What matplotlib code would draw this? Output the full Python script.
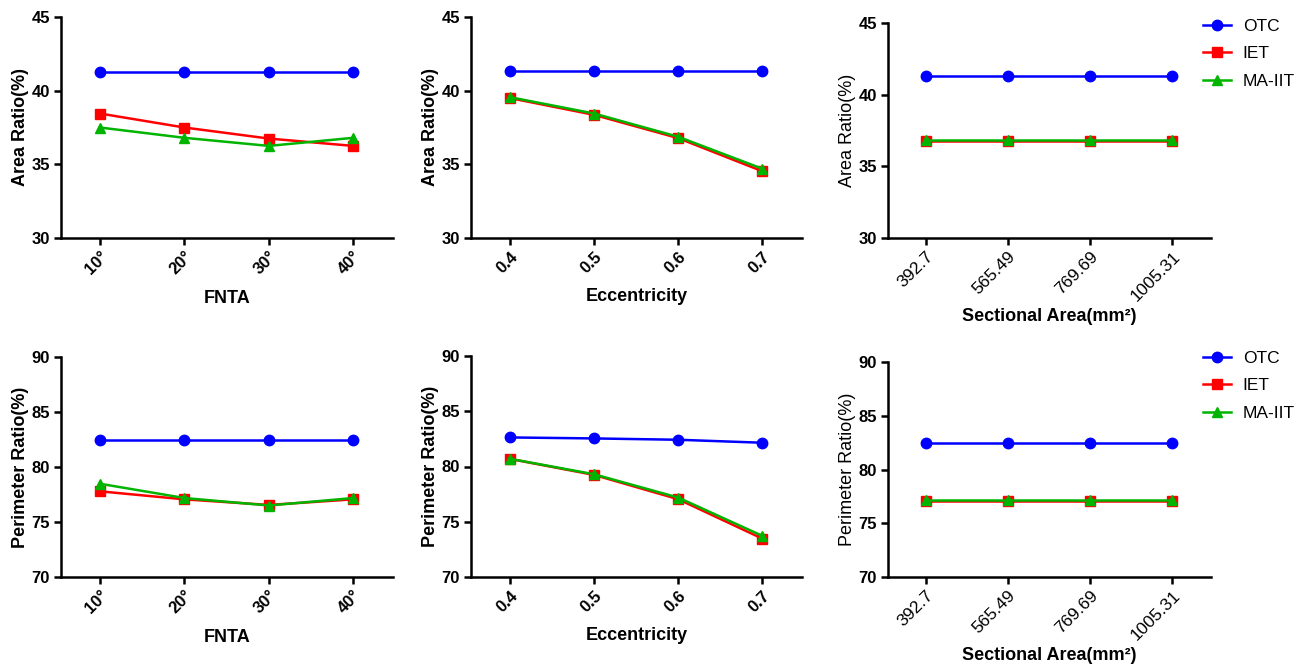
import matplotlib
matplotlib.use("Agg")
import matplotlib.pyplot as plt

plt.rcParams['font.family'] = ['Liberation Sans', 'DejaVu Sans']

# ---- data ----
fnta_labels = ["10°", "20°", "30°", "40°"]
ecc_labels = ["0.4", "0.5", "0.6", "0.7"]
area_labels = ["392.7", "565.49", "769.69", "1005.31"]

series_names = ["OTC", "IET", "MA-IIT"]

# Area ratio (%)
area_fnta_otc = [41.3, 41.3, 41.3, 41.3]
area_fnta_iet = [38.45, 37.5, 36.75, 36.25]
area_fnta_ma = [37.5, 36.8, 36.25, 36.8]

area_ecc_otc = [41.33, 41.33, 41.33, 41.33]
area_ecc_iet = [39.5, 38.36, 36.78, 34.53]
area_ecc_ma = [39.56, 38.45, 36.87, 34.7]

area_sec_otc = [41.3, 41.3, 41.3, 41.3]
area_sec_iet = [36.79, 36.79, 36.79, 36.79]
area_sec_ma = [36.84, 36.84, 36.84, 36.84]

# Perimeter ratio (%)
per_fnta_otc = [82.45, 82.45, 82.45, 82.45]
per_fnta_iet = [77.79, 77.06, 76.55, 77.06]
per_fnta_ma = [78.48, 77.18, 76.5, 77.18]

per_ecc_otc = [82.63, 82.54, 82.42, 82.15]
per_ecc_iet = [80.69, 79.24, 77.04, 73.47]
per_ecc_ma = [80.7, 79.3, 77.19, 73.72]

per_sec_otc = [82.44, 82.44, 82.44, 82.44]
per_sec_iet = [77.03, 77.03, 77.03, 77.03]
per_sec_ma = [77.2, 77.2, 77.2, 77.2]

area_yticks = [30, 35, 40, 45]
per_yticks = [70, 75, 80, 85, 90]

colors = ["#0000FF", "#FF0000", "#00B400"]
markers = ["o", "s", "^"]

W, H = 1305, 667
fig = plt.figure(figsize=(W / 100, H / 100), dpi=100)


def ax_at(left, right, top, bottom):
    return fig.add_axes([left / W, 1 - bottom / H, (right - left) / W, (bottom - top) / H])


sec_label = "Sectional Area(mm²)"

panels = [
    # (left, right, top, bottom, xlabels, series, yticks, ylabel, xlabel, ylabel_bold, xtick_bold)
    (61, 393, 17, 238, fnta_labels, [area_fnta_otc, area_fnta_iet, area_fnta_ma], area_yticks,
     "Area Ratio(%)", "FNTA", True, True),
    (471, 802, 17, 238, ecc_labels, [area_ecc_otc, area_ecc_iet, area_ecc_ma], area_yticks,
     "Area Ratio(%)", "Eccentricity", True, True),
    (888, 1211, 23, 238, area_labels, [area_sec_otc, area_sec_iet, area_sec_ma], area_yticks,
     "Area Ratio(%)", sec_label, False, False),
    (61, 393, 357, 577, fnta_labels, [per_fnta_otc, per_fnta_iet, per_fnta_ma], per_yticks,
     "Perimeter Ratio(%)", "FNTA", True, True),
    (471, 802, 356, 577, ecc_labels, [per_ecc_otc, per_ecc_iet, per_ecc_ma], per_yticks,
     "Perimeter Ratio(%)", "Eccentricity", True, True),
    (888, 1211, 362, 577, area_labels, [per_sec_otc, per_sec_iet, per_sec_ma], per_yticks,
     "Perimeter Ratio(%)", sec_label, False, False),
]

axes = []
for (l, r, t, b, xl, ser, yt, ylab, xlab, ybold, xbold) in panels:
    ax = ax_at(l, r, t, b)
    x = list(range(len(xl)))
    for vals, c, m, name in zip(ser, colors, markers, series_names):
        ax.plot(x, vals, color=c, marker=m, markersize=7.5, linewidth=1.8,
                markeredgecolor=c, label=name)
    ax.set_xlim(-0.46, 3.47)
    ax.set_ylim(yt[0], yt[-1])
    ax.set_yticks(yt)
    ax.set_xticks(x)
    ax.set_xticklabels(xl, rotation=45, ha='right', rotation_mode='anchor',
                       fontsize=12 if xbold else 12.5,
                       fontweight='bold' if xbold else 'normal')
    for lab in ax.get_yticklabels():
        lab.set_fontsize(12)
        lab.set_fontweight('bold')
    ax.set_ylabel(ylab, fontsize=13, fontweight='bold' if ybold else 'normal', labelpad=2)
    ax.set_xlabel(xlab, fontsize=13, fontweight='bold', labelpad=9 if xbold else 3)
    for s in ['top', 'right']:
        ax.spines[s].set_visible(False)
    for s in ['left', 'bottom']:
        ax.spines[s].set_linewidth(1.8)
    ax.tick_params(axis='both', direction='out', length=5, width=1.8, pad=3)
    ax.set_facecolor('none')
    axes.append(ax)

# legends
for ax, ytop in [(axes[2], 12), (axes[5], 344)]:
    h, lb = ax.get_legend_handles_labels()
    fig.legend(h, lb, loc='upper left', bbox_to_anchor=(1196 / W, 1 - ytop / H),
               frameon=False, fontsize=12.5, handlelength=1.6, handletextpad=0.7,
               labelspacing=0.7, borderaxespad=0)

fig.savefig("out.png", dpi=100)
